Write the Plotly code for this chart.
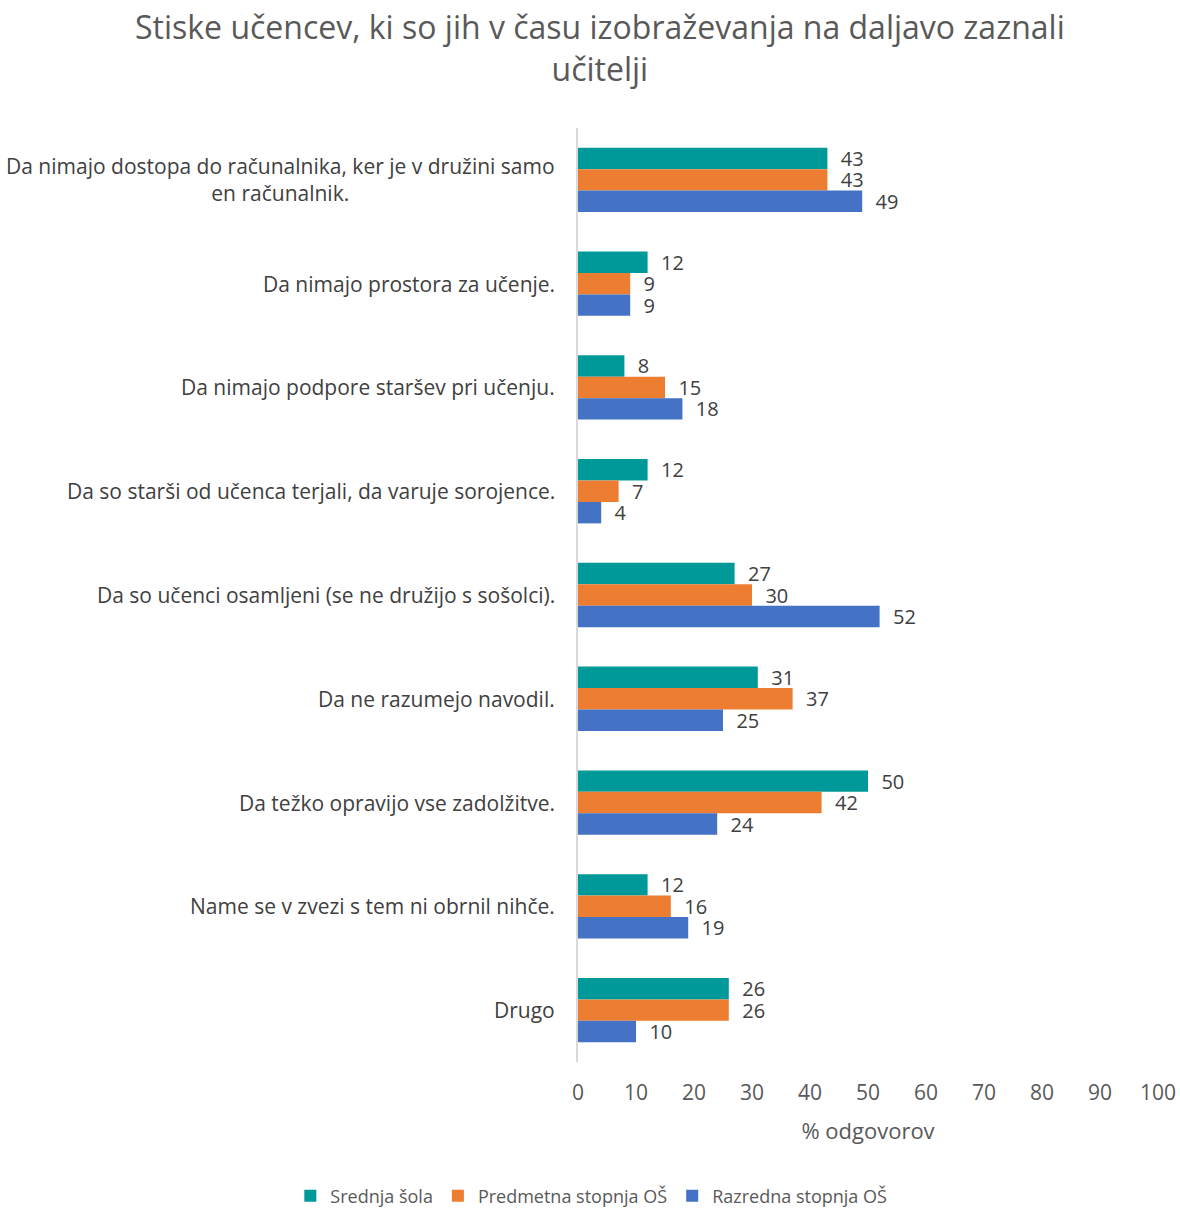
import plotly.graph_objects as go

categories = [
    "Da nimajo dostopa do računalnika, ker je v družini samo<br>en računalnik.",
    "Da nimajo prostora za učenje.",
    "Da nimajo podpore staršev pri učenju.",
    "Da so starši od učenca terjali, da varuje sorojence.",
    "Da so učenci osamljeni (se ne družijo s sošolci).",
    "Da ne razumejo navodil.",
    "Da težko opravijo vse zadolžitve.",
    "Name se v zvezi s tem ni obrnil nihče.",
    "Drugo",
]
srednja_sola = [43, 12, 8, 12, 27, 31, 50, 12, 26]
predmetna_os = [43, 9, 15, 7, 30, 37, 42, 16, 26]
razredna_os = [49, 9, 18, 4, 52, 25, 24, 19, 10]
x_ticks = [0, 10, 20, 30, 40, 50, 60, 70, 80, 90, 100]

series = [
    ("Srednja šola", srednja_sola, "#009999"),
    ("Predmetna stopnja OŠ", predmetna_os, "#ED7D31"),
    ("Razredna stopnja OŠ", razredna_os, "#4472C4"),
]

FONT = "Open Sans"
TEXT = "#404040"
MUTED = "#595959"

fig = go.Figure()
for name, vals, color in series:
    fig.add_trace(go.Bar(
        y=categories, x=vals, name=name, orientation="h",
        marker=dict(color=color, line=dict(width=0)),
        text=vals, texttemplate="  %{x}", textposition="outside",
        cliponaxis=False, constraintext="none",
        textfont=dict(family=FONT, size=20, color=TEXT),
    ))

# category labels, centered line by line and right-aligned against the axis
for cat in categories:
    fig.add_annotation(
        x=0, xref="paper", y=cat, yref="y", text=cat, showarrow=False,
        xanchor="right", xshift=-21, align="center",
        font=dict(family=FONT, size=21, color=TEXT),
    )

# chart title
fig.add_annotation(
    x=0.038, xref="paper", xanchor="center",
    y=1.086, yref="paper", yanchor="middle",
    text="Stiske učencev, ki so jih v času izobraževanja na daljavo zaznali<br>učitelji",
    showarrow=False, align="center",
    font=dict(family=FONT, size=32, color=MUTED),
)

fig.update_layout(
    width=1180, height=1209,
    paper_bgcolor="white", plot_bgcolor="white",
    margin=dict(l=578, r=22, t=128, b=147, autoexpand=False),
    barmode="group", bargap=0.38, bargroupgap=0,
    font=dict(family=FONT, color=TEXT),
    legend=dict(
        orientation="h", x=-0.496, xanchor="left", y=-0.1435, yanchor="middle",
        font=dict(family=FONT, size=18, color=MUTED),
        traceorder="normal", itemwidth=30,
    ),
    xaxis=dict(
        range=[0, 100], tickvals=x_ticks, showgrid=False, zeroline=False,
        showline=False, ticks="", automargin=False, ticklabelstandoff=16,
        tickfont=dict(family=FONT, size=21, color=MUTED),
        title=dict(text="% odgovorov", font=dict(family=FONT, size=22, color=MUTED), standoff=18),
    ),
    yaxis=dict(
        autorange="reversed", showticklabels=False, ticks="", automargin=False,
        showline=True, linecolor="#d9d9d9", linewidth=2, showgrid=False,
    ),
)

fig.write_html("out.html")
